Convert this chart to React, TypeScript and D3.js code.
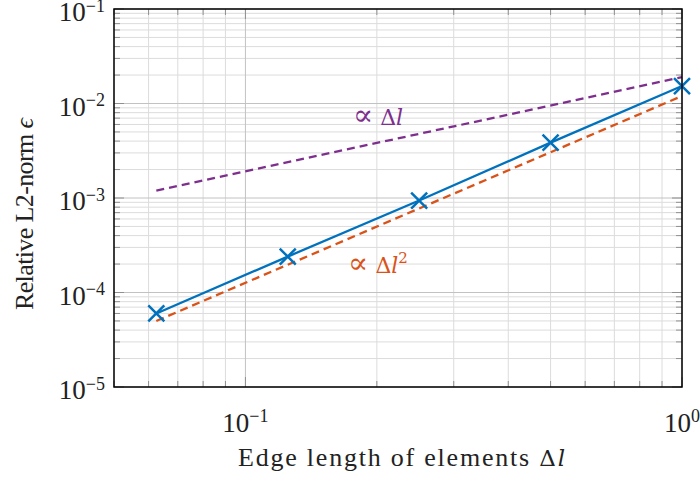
import React, { useEffect, useRef } from "react";
import * as d3 from "d3";

// measured error vs edge length
const edgeLengths = [0.0625, 0.125, 0.25, 0.5, 1];
const errors = [6.0e-5, 2.4e-4, 9.4e-4, 3.85e-3, 1.53e-2];

// reference slopes (end points)
const quadX = [0.0625, 1];
const quadY = [5.0e-5, 1.2e-2];
const linX = [0.0625, 1];
const linY = [1.2e-3, 1.9e-2];

const xTickValues = [0.1, 1];
const xTickExps = ["−1", "0"];
const yTickValues = [1e-1, 1e-2, 1e-3, 1e-4, 1e-5];
const yTickExps = ["−1", "−2", "−3", "−4", "−5"];

const BLUE = "#0072BD";
const ORANGE = "#D95319";
const PURPLE = "#7E2F8E";
const FONT = "'Liberation Serif', 'DejaVu Serif', serif";
const SYM = "'DejaVu Serif', serif";

function ConvergencePlot() {
    const ref = useRef<SVGSVGElement>(null);

    useEffect(() => {
        const svg = d3.select(ref.current);
        svg.selectAll("*").remove();

        const width = 700;
        const height = 480;
        const margin = { top: 9, right: 18, bottom: 93, left: 114 };

        const x = d3.scaleLog().domain([0.05, 1]).range([margin.left, width - margin.right]);
        const y = d3.scaleLog().domain([1e-5, 1e-1]).range([height - margin.bottom, margin.top]);

        const [x0, x1] = x.range();
        const [y0, y1] = y.range();

        // grid
        const xMinor: number[] = [];
        [0.01, 0.1].forEach(d => {
            for (let k = 2; k <= 9; k++) {
                const v = d * k;
                if (v >= 0.05 && v < 1) xMinor.push(v);
            }
        });
        const yMinor: number[] = [];
        [1e-5, 1e-4, 1e-3, 1e-2].forEach(d => {
            for (let k = 2; k <= 9; k++) yMinor.push(d * k);
        });

        const grid = svg.append("g");
        grid.selectAll(".xminor").data(xMinor).enter().append("line")
            .attr("x1", d => x(d)).attr("x2", d => x(d))
            .attr("y1", y0).attr("y2", y1)
            .attr("stroke", "#dcdcdc").attr("stroke-width", 1);
        grid.selectAll(".yminor").data(yMinor).enter().append("line")
            .attr("x1", x0).attr("x2", x1)
            .attr("y1", d => y(d)).attr("y2", d => y(d))
            .attr("stroke", "#dcdcdc").attr("stroke-width", 1);
        grid.selectAll(".xmajor").data(xTickValues).enter().append("line")
            .attr("x1", d => x(d)).attr("x2", d => x(d))
            .attr("y1", y0).attr("y2", y1)
            .attr("stroke", "#c2c2c2").attr("stroke-width", 1);
        grid.selectAll(".ymajor").data(yTickValues).enter().append("line")
            .attr("x1", x0).attr("x2", x1)
            .attr("y1", d => y(d)).attr("y2", d => y(d))
            .attr("stroke", "#c2c2c2").attr("stroke-width", 1);

        // inner ticks on all four sides
        const ticks = svg.append("g").attr("stroke", "#909090").attr("stroke-width", 1);
        const tick = (vals: number[], len: number) => {
            vals.forEach(v => {
                ticks.append("line").attr("x1", x(v)).attr("x2", x(v)).attr("y1", y0).attr("y2", y0 - len);
                ticks.append("line").attr("x1", x(v)).attr("x2", x(v)).attr("y1", y1).attr("y2", y1 + len);
            });
        };
        tick(xMinor, 6);
        tick(xTickValues, 10);
        const ytick = (vals: number[], len: number) => {
            vals.forEach(v => {
                ticks.append("line").attr("y1", y(v)).attr("y2", y(v)).attr("x1", x0).attr("x2", x0 + len);
                ticks.append("line").attr("y1", y(v)).attr("y2", y(v)).attr("x1", x1).attr("x2", x1 - len);
            });
        };
        ytick(yMinor, 6);
        ytick(yTickValues, 10);

        const line = d3.line<[number, number]>().x(d => x(d[0])).y(d => y(d[1]));

        // reference lines
        svg.append("path")
            .attr("d", line(quadX.map((v, i) => [v, quadY[i]] as [number, number])))
            .attr("fill", "none").attr("stroke", ORANGE).attr("stroke-width", 2.3)
            .attr("stroke-dasharray", "8,5");
        svg.append("path")
            .attr("d", line(linX.map((v, i) => [v, linY[i]] as [number, number])))
            .attr("fill", "none").attr("stroke", PURPLE).attr("stroke-width", 2.3)
            .attr("stroke-dasharray", "8,5");

        // measured errors
        const pts = edgeLengths.map((v, i) => [v, errors[i]] as [number, number]);
        svg.append("path")
            .attr("d", line(pts))
            .attr("fill", "none").attr("stroke", BLUE).attr("stroke-width", 2.3);
        const s = 8;
        svg.selectAll(".mark").data(pts).enter().append("path")
            .attr("d", d => {
                const cx = x(d[0]);
                const cy = y(d[1]);
                return `M${cx - s},${cy - s}L${cx + s},${cy + s}M${cx - s},${cy + s}L${cx + s},${cy - s}`;
            })
            .attr("stroke", BLUE).attr("stroke-width", 2.5).attr("fill", "none");

        // frame
        svg.append("rect")
            .attr("x", x0).attr("y", y1)
            .attr("width", x1 - x0).attr("height", y0 - y1)
            .attr("fill", "none").attr("stroke", "#000").attr("stroke-width", 1.5);

        // tick labels
        const fs = 27;
        const sfs = 18;
        xTickValues.forEach((v, i) => {
            const t = svg.append("text")
                .attr("x", x(v)).attr("y", 432)
                .attr("text-anchor", "middle")
                .attr("font-family", FONT).attr("font-size", fs).attr("fill", "#222");
            t.append("tspan").text("10");
            t.append("tspan").attr("dy", -10).attr("font-size", sfs).text(xTickExps[i]);
        });
        yTickValues.forEach((v, i) => {
            const t = svg.append("text")
                .attr("x", 105).attr("y", y(v) + 12)
                .attr("text-anchor", "end")
                .attr("font-family", FONT).attr("font-size", fs).attr("fill", "#222");
            t.append("tspan").text("10");
            t.append("tspan").attr("dy", -9.5).attr("font-size", sfs).text(yTickExps[i]);
        });

        // axis labels
        const xl = svg.append("text")
            .attr("x", 238).attr("y", 466)
            .attr("textLength", 327).attr("lengthAdjust", "spacing")
            .attr("font-family", FONT).attr("font-size", 26).attr("fill", "#222");
        xl.append("tspan").text("Edge length of elements ");
        xl.append("tspan").attr("font-family", SYM).attr("font-size", 23).text("Δ");
        xl.append("tspan").attr("font-family", SYM).attr("font-size", 23).attr("font-style", "italic").text("l");

        const yl = svg.append("text")
            .attr("transform", `translate(33,310) rotate(-90)`)
            .attr("textLength", 192).attr("lengthAdjust", "spacing")
            .attr("font-family", FONT).attr("font-size", 26).attr("fill", "#222");
        yl.append("tspan").text("Relative L2-norm ");
        yl.append("tspan").attr("font-style", "italic").text("ϵ");

        // annotations
        const a1 = svg.append("text")
            .attr("x", 378).attr("y", 125)
            .attr("text-anchor", "middle")
            .attr("font-family", SYM).attr("font-size", 22).attr("fill", PURPLE);
        a1.append("tspan").attr("font-size", 30).text("∝");
        a1.append("tspan").text(" Δ");
        a1.append("tspan").attr("font-style", "italic").text("l");

        const a2 = svg.append("text")
            .attr("x", 378).attr("y", 273)
            .attr("text-anchor", "middle")
            .attr("font-family", SYM).attr("font-size", 22).attr("fill", ORANGE);
        a2.append("tspan").attr("font-size", 30).text("∝");
        a2.append("tspan").text(" Δ");
        a2.append("tspan").attr("font-style", "italic").text("l");
        a2.append("tspan").attr("dy", -10).attr("font-size", 15).text("2");
    }, []);

    return <svg ref={ref} width={700} height={480} style={{ display: "block", background: "#fff" }} />;
}

export default function App() {
    return (
        <div style={{ position: "absolute", left: 0, top: 0 }}>
            <ConvergencePlot />
        </div>
    );
}
